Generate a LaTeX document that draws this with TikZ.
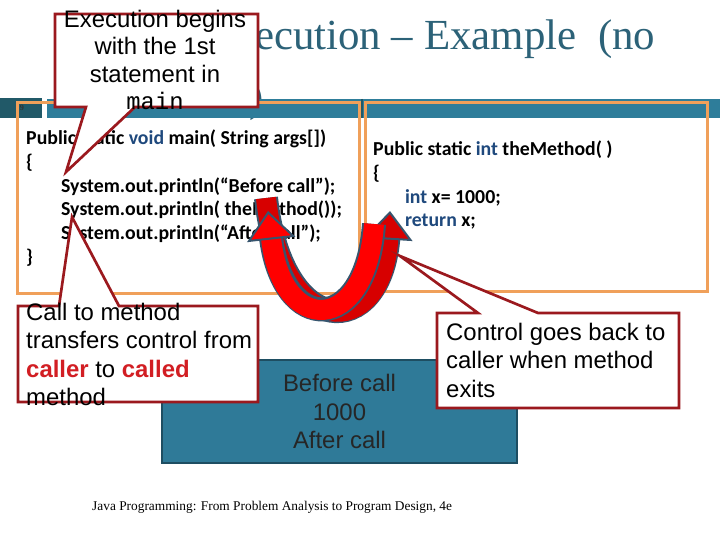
\documentclass[tikz,border=0pt]{standalone}
\usepackage{fontspec}
\setmainfont{Liberation Serif}
\setmonofont{Liberation Mono}
\newfontfamily\calibri{Carlito}
\newfontfamily\arial{Liberation Sans}
\usetikzlibrary{arrows.meta, positioning}

\definecolor{titleteal}{RGB}{44,98,120}
\definecolor{barblue}{RGB}{46,125,154}
\definecolor{bardark}{RGB}{33,89,104}
\definecolor{frameorange}{RGB}{240,160,90}
\definecolor{calloutred}{RGB}{155,25,30}
\definecolor{codeblue}{RGB}{31,73,125}
\definecolor{keyred}{RGB}{210,30,35}
\definecolor{outblue}{RGB}{47,122,152}
\definecolor{outedge}{RGB}{30,78,98}
\definecolor{ribbonedge}{RGB}{55,85,110}
\definecolor{brightred}{RGB}{255,0,0}
\definecolor{deepred}{RGB}{215,0,0}

\begin{document}
\begin{tikzpicture}[x=0.03cm, y=-0.03cm,
        codeline/.style={anchor=north west, inner sep=0pt, align=left, font=\calibri\bfseries\fontsize{16.9}{20.2}\selectfont},
        callout/.style={draw=calloutred, fill=white, line width=0.08cm, line join=miter},
        saytext/.style={inner sep=0pt, font=\arial\fontsize{20.4}{24.4}\selectfont},
        boxframe/.style={draw=frameorange, line width=0.09cm},
        ribbonout/.style={draw=ribbonedge, line width=0.72cm, shorten >=0.72cm},
        ribbon/.style={draw=#1, line width=0.6cm, -{Triangle[length=0.86cm, width=1.45cm, line width=0.06cm, color=ribbonedge, fill=#1]}}
    ]

    \fill[white] (0,0) rectangle (720,540);
    \useasboundingbox (0,0) rectangle (720,540);

    % title, partly under the first callout
    \node[anchor=base west, inner sep=0pt, text=titleteal, font=\fontsize{36.6}{40}\selectfont] (title) at (254.8,50) {ecution -- Example\ \ (no};
    \node[anchor=base west, inner sep=0pt, text=titleteal, font=\fontsize{36.6}{40}\selectfont] (titlerest) at (249,112) {)};

    % header bar
    \fill[bardark] (0,98) rectangle (42,118);
    \fill[barblue] (47,99) rectangle (720,118);
    \draw[bardark, line width=0.04cm] (362,99) -- (362,118);
    \node[font=\bfseries\fontsize{7}{7}\selectfont, text=black!80] (slideno) at (22,108) {9};

    \draw[boxframe] (17,103) rectangle (359,294);
    \draw[boxframe] (365,103) rectangle (707,292);

    \node[codeline] (maincode) at (26,130) {Public static {\color{codeblue}void} main( String args[])\\
        \{\\
        \hspace*{29.8pt}System.out.println(“Before call”);\\
        \hspace*{29.8pt}System.out.println( theMethod());\\
        \hspace*{29.8pt}System.out.println(“After call”);\\
        \}};
    \node[codeline] (methodcode) at (373,141) {Public static {\color{codeblue}int} theMethod( )\\
        \{\\
        \hspace*{27.2pt}{\color{codeblue}int} x= 1000;\\
        \hspace*{27.2pt}{\color{codeblue}return} x;};

    % console output
    \node[draw=outedge, fill=outblue, line width=0.05cm, minimum width=10.65cm, minimum height=3.09cm,
        align=center, text=black!85, font=\arial\fontsize{20.4}{24.2}\selectfont] (output) at (339.5,411.5) {Before call\\1000\\After call};

    % call and return
    \coordinate (callfrom) at (266,198);
    \coordinate (callto) at (390,211);
    \coordinate (backfrom) at (374,224);
    \coordinate (backto) at (268,211);
    \draw[ribbonout] (callfrom) .. controls (282,342) and (382,342) .. (callto);
    \draw[ribbon=deepred] (callfrom) .. controls (282,342) and (382,342) .. (callto);
    \draw[ribbonout] (backfrom) .. controls (366,336) and (282,336) .. (backto);
    \draw[ribbon=brightred] (backfrom) .. controls (366,336) and (282,336) .. (backto);

    % callouts
    \draw[callout] (55,14) -- (258,14) -- (258,107) -- (135,107) -- (66,172) -- (86,107) -- (55,107) -- cycle;
    \node[saytext, anchor=north, align=center, font=\arial\fontsize{20.4}{23.5}\selectfont] (startnote) at (155,9.5) {Execution begins\\with the 1st\\statement in\\\texttt{main}};

    \draw[callout] (18,306) -- (59,306) -- (72,217) -- (119,306) -- (258,306) -- (258,402) -- (18,402) -- cycle;
    \node[saytext, anchor=north west, align=left] (callnote) at (26,302.5) {Call to method\\transfers control from\\{\color{keyred}\bfseries caller} to {\color{keyred}\bfseries called}\\method};

    \draw[callout] (437,313) -- (478,313) -- (400,256) -- (538,313) -- (679,313) -- (679,408) -- (437,408) -- cycle;
    \node[saytext, anchor=north west, align=left] (returnnote) at (446,322.5) {Control goes back to\\caller when method\\exits};

    \node[anchor=base west, inner sep=0pt, font=\fontsize{11.4}{13}\selectfont] (source) at (92,510) {Java Programming: From Problem Analysis to Program Design, 4e};

\end{tikzpicture}
\end{document}
